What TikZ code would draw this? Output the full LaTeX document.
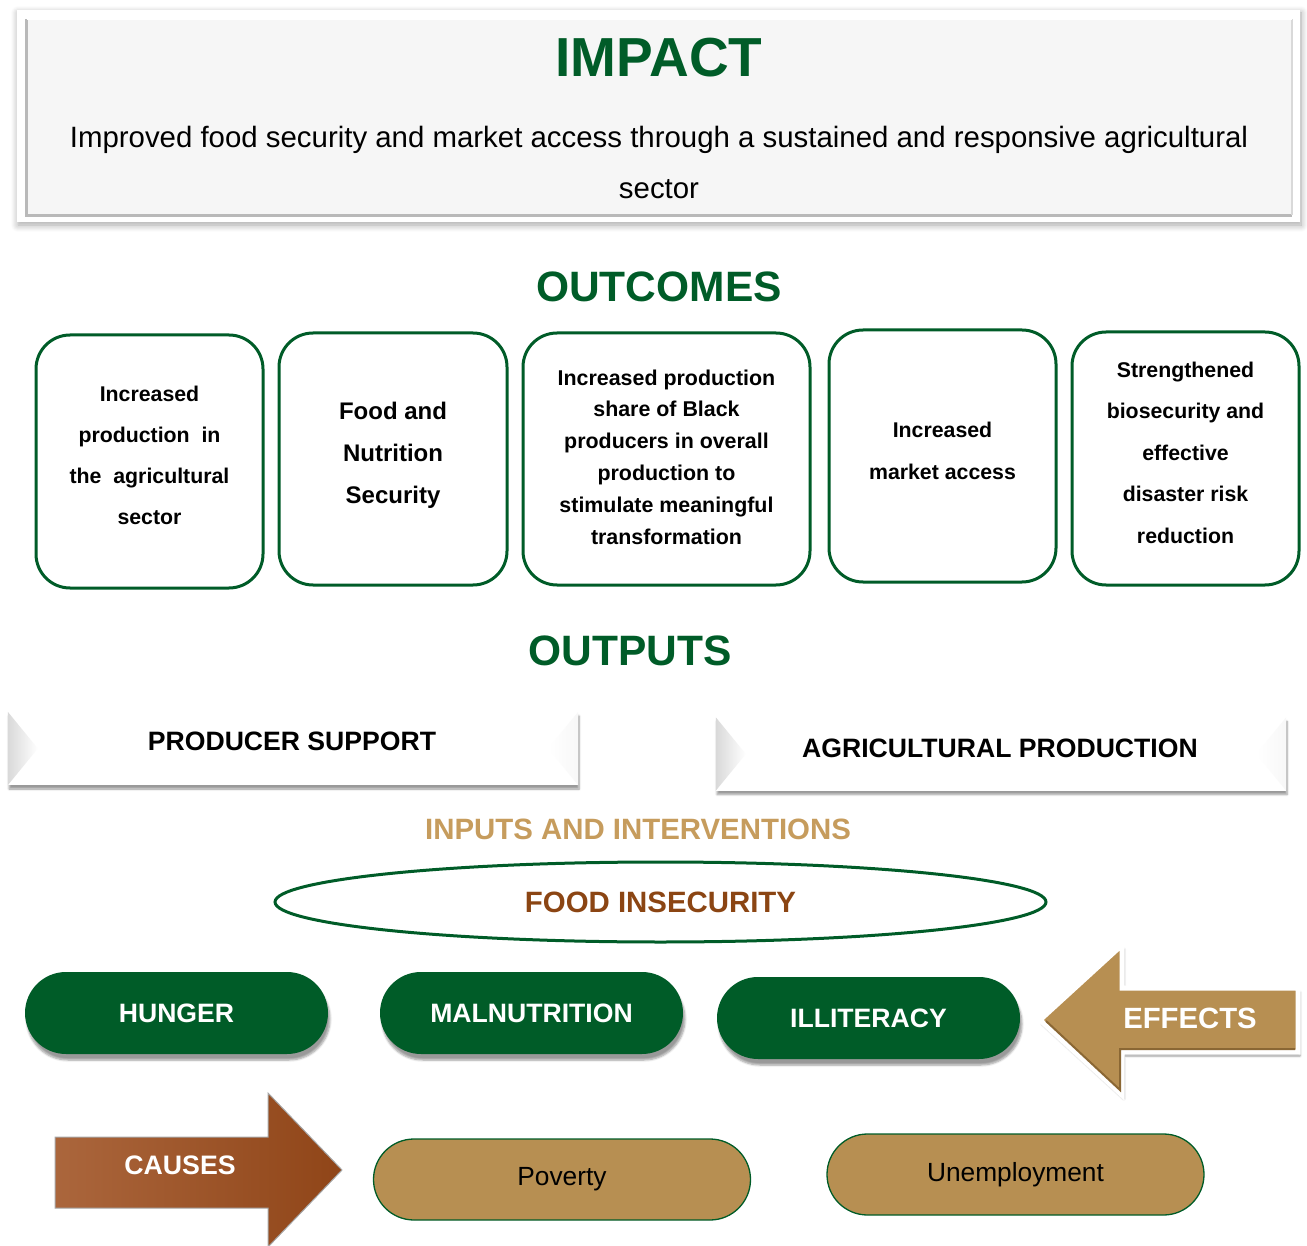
\documentclass[tikz,border=0pt]{standalone}
\usepackage{fontspec}
\setmainfont{Liberation Sans}
\usetikzlibrary{shadows.blur,shapes.geometric,shapes.misc}
\definecolor{agreen}{HTML}{005C28}
\definecolor{atan}{HTML}{B78F52}
\definecolor{tandark}{HTML}{8A6734}
\definecolor{abrown}{HTML}{9C4B1A}
\definecolor{inputtan}{HTML}{C69C5D}
\definecolor{insecbrown}{HTML}{8B4513}
\newcommand{\fsz}[2]{\fontsize{#1}{#2}\selectfont}
\begin{document}
\begin{tikzpicture}[x=1pt,y=-1pt,
  heading/.style={font=\fsz{42.5}{42.5}\bfseries, text=agreen, inner sep=0pt},
  outbox/.style={draw=agreen, line width=3pt, rounded corners=34pt, fill=white,
    align=center, inner sep=0pt},
  banner/.style={fill=white, minimum width=570pt, minimum height=73pt, inner sep=0pt,
    blur shadow={shadow xshift=1pt, shadow yshift=-4pt, shadow blur steps=6, shadow opacity=40}},
  bannertext/.style={font=\fsz{26.6}{26.6}\bfseries, text=black, inner sep=0pt},
  pill/.style={rounded rectangle, fill=agreen, minimum width=303pt, minimum height=82pt,
    text=white, font=\fsz{26.6}{26.6}\bfseries, inner sep=0pt,
    blur shadow={shadow xshift=2pt, shadow yshift=-6pt, shadow blur steps=6, shadow opacity=40}},
  cause/.style={rounded rectangle, fill=atan, draw=agreen, line width=1.3pt,
    minimum width=377pt, minimum height=81pt, font=\fsz{26.3}{26.3}, text=black, inner sep=0pt},
  arrowtext/.style={text=white, font=\fsz{29.3}{29.3}\bfseries, inner sep=0pt}
]
\useasboundingbox (0,0) rectangle (1307,1246);

% ---------- impact panel ----------
\fill[white, blur shadow={shadow xshift=1pt, shadow yshift=-3pt, shadow blur radius=7pt,
  shadow blur steps=8, shadow opacity=35}]
  (17,10) rectangle (1300,222);
\node[fill=gray!7, minimum width=1265pt, minimum height=196pt, inner sep=0pt] (impactbox) at (659.5,117) {};
\draw[gray!55, line width=3pt] (impactbox.north west) -- (impactbox.south west) -- (impactbox.south east);
\draw[gray!30, line width=2pt] (impactbox.south east) -- (impactbox.north east);
\draw[white, line width=2pt] (impactbox.north west) -- (impactbox.north east);
\node[font=\fsz{55}{55}\bfseries, text=agreen, inner sep=0pt] (impact) at (659,58) {IMPACT};
\node[font=\fsz{29.4}{51}\selectfont, align=center, inner sep=0pt] (impacttext) at (659,162)
  {Improved food security and market access through a sustained and responsive agricultural\\sector};

% ---------- outcomes ----------
\node[heading] (outcomes) at (659,287) {OUTCOMES};
\node[outbox, minimum width=227pt, minimum height=253pt, font=\fsz{21.3}{41}\bfseries] (oc1) at (149.5,461.5) {};
\node[font=\fsz{21.3}{41}\bfseries, align=center, inner sep=0pt] (oc1text) at (149.5,455.5)
  {Increased\\production~~in\\the~~agricultural\\sector};
\node[outbox, minimum width=228pt, minimum height=252pt] (oc2) at (393,459) {};
\node[font=\fsz{24}{42}\bfseries, align=center, inner sep=0pt] (oc2text) at (393,455)
  {Food and\\Nutrition\\Security};
\node[outbox, minimum width=287pt, minimum height=252pt] (oc3) at (666.5,459) {};
\node[font=\fsz{21.4}{31.8}\bfseries, align=center, inner sep=0pt] (oc3text) at (666.5,457)
  {Increased production\\share of Black\\producers in overall\\production to\\stimulate meaningful\\transformation};
\node[outbox, minimum width=227pt, minimum height=252pt] (oc4) at (942.5,456) {};
\node[font=\fsz{21.3}{42}\bfseries, align=center, inner sep=0pt] (oc4text) at (942.5,451)
  {Increased\\market access};
\node[outbox, minimum width=227pt, minimum height=253pt] (oc5) at (1185.5,458.5) {};
\node[font=\fsz{21.3}{41.5}\bfseries, align=center, inner sep=0pt] (oc5text) at (1185.5,452.5)
  {Strengthened\\biosecurity and\\effective\\disaster risk\\reduction};

% ---------- outputs ----------
\node[heading] (outputs) at (630,651) {OUTPUTS};
\node[banner] (prodbox) at (293,748.5) {};
\shade[left color=gray!30, right color=white]
  (prodbox.north west) -- ([xshift=30pt]prodbox.west) -- (prodbox.south west) -- cycle;
\shade[left color=white, right color=gray!6]
  (prodbox.north east) -- ([xshift=-30pt]prodbox.east) -- (prodbox.south east) -- cycle;
\node[bannertext] (prodtext) at (292,741) {PRODUCER SUPPORT};

\node[banner] (agribox) at (1001,754) {};
\shade[left color=gray!30, right color=white]
  (agribox.north west) -- ([xshift=30pt]agribox.west) -- (agribox.south west) -- cycle;
\shade[left color=white, right color=gray!6]
  (agribox.north east) -- ([xshift=-30pt]agribox.east) -- (agribox.south east) -- cycle;
\node[bannertext] (agritext) at (1000,748) {AGRICULTURAL PRODUCTION};

% ---------- inputs and interventions ----------
\node[font=\fsz{29.4}{29.4}\bfseries, text=inputtan, inner sep=0pt] (inputs) at (638,829) {INPUTS AND INTERVENTIONS};
\node[ellipse, draw=agreen, line width=3pt, fill=white, minimum width=771pt, minimum height=80pt,
  font=\fsz{29.4}{29.4}\bfseries, text=insecbrown, inner sep=0pt] (insecurity) at (660.5,902) {FOOD INSECURITY};

% effects row
\node[pill] (hunger) at (176.5,1013) {HUNGER};
\node[pill] (malnutrition) at (531.5,1013) {MALNUTRITION};
\node[pill] (illiteracy) at (868.5,1018) {ILLITERACY};

\path[fill=atan, draw=white, line width=5pt, line join=miter,
  blur shadow={shadow xshift=2pt, shadow yshift=-4pt, shadow blur steps=6, shadow opacity=40}]
  (1040,1020) -- (1122,945) -- (1122,988) -- (1298,988) -- (1298,1052) -- (1122,1052) -- (1122,1095) -- cycle;
\draw[tandark, line width=2pt] (1046,1021) -- (1120,1090) -- (1120,1049) -- (1295,1049);
\node[arrowtext] (effects) at (1190,1018) {EFFECTS};

% causes row
\shade[left color=abrown!85!white, right color=abrown!92!black, draw=gray!70, line width=1pt]
  (55,1137) -- (268,1137) -- (268,1093) -- (342,1170) -- (268,1247) -- (268,1208) -- (55,1208) -- cycle;
\node[arrowtext, font=\fsz{26.7}{26.7}\bfseries] (causes) at (180,1165) {CAUSES};
\node[cause] (poverty) at (562,1179.5) {Poverty};
\node[cause] (unemployment) at (1015.5,1174.5) {Unemployment};
\end{tikzpicture}
\end{document}
